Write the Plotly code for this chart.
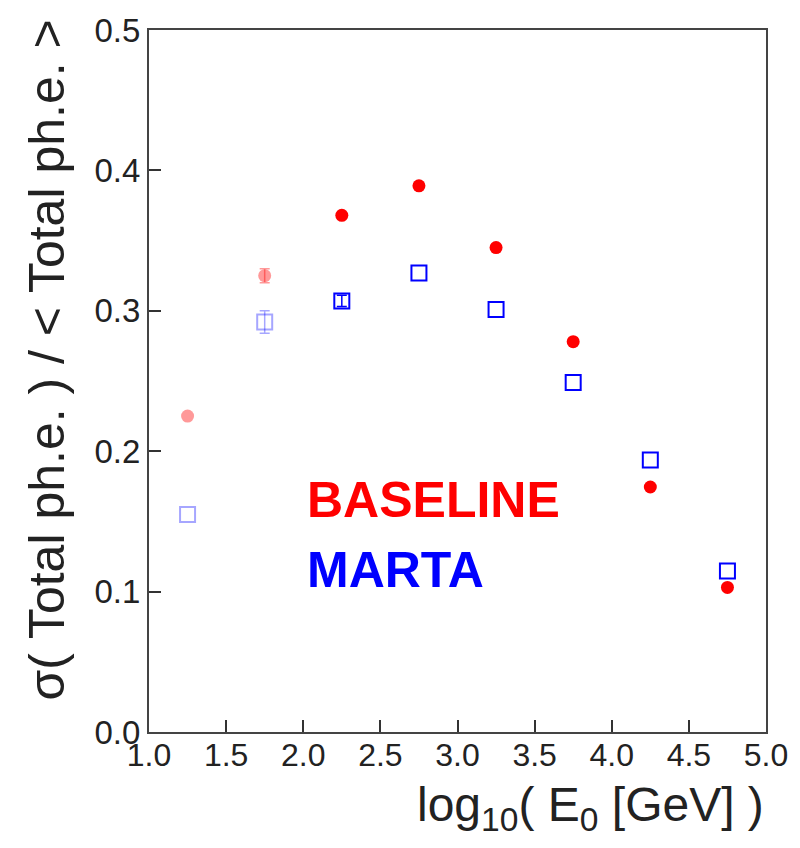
import plotly.graph_objects as go

energy = [1.25, 1.75, 2.25, 2.75, 3.25, 3.75, 4.25, 4.75]
baseline = [0.225, 0.325, 0.368, 0.389, 0.345, 0.278, 0.1745, 0.103]
baseline_err = [0.0, 0.005, 0.0, 0.0, 0.0, 0.0, 0.0, 0.0]
marta = [0.155, 0.292, 0.307, 0.327, 0.301, 0.249, 0.1937, 0.1147]
marta_err = [0.0, 0.008, 0.004, 0.0, 0.0, 0.0, 0.0, 0.0]
faint = [True, True, False, False, False, False, False, False]

red_col = ["rgba(255,0,0,0.4)" if f else "rgb(255,0,0)" for f in faint]
blue_col = ["rgba(0,0,255,0.35)" if f else "rgb(0,0,255)" for f in faint]

FONT = "Liberation Sans"

fig = go.Figure()
for i in range(len(energy)):
    fig.add_trace(go.Scatter(
        x=[energy[i]], y=[baseline[i]], mode="markers",
        error_y=dict(type="data", array=[baseline_err[i]], visible=baseline_err[i] > 0,
                     color=red_col[i], thickness=1.5, width=5),
        marker=dict(symbol="circle", size=13, color=red_col[i], line=dict(width=0)),
        showlegend=False))
    fig.add_trace(go.Scatter(
        x=[energy[i]], y=[marta[i]], mode="markers",
        error_y=dict(type="data", array=[marta_err[i]], visible=marta_err[i] > 0,
                     color=blue_col[i], thickness=1.5, width=5),
        marker=dict(symbol="square-open", size=15, color=blue_col[i], line=dict(width=2, color=blue_col[i])),
        showlegend=False))

fig.add_annotation(x=2.01, y=0.165, xref="x", yref="y", text="<b>BASELINE</b>", showarrow=False,
                   xanchor="left", yanchor="middle", font=dict(family=FONT, size=50, color="#ff0000"))
fig.add_annotation(x=2.01, y=0.1154, xref="x", yref="y", text="<b>MARTA</b>", showarrow=False,
                   xanchor="left", yanchor="middle", font=dict(family=FONT, size=50, color="#0000ff"))

fig.add_annotation(x=1.0, y=-0.063, xref="paper", yref="paper", xanchor="right", yanchor="top",
                   text="log<sub>10</sub>( E<sub>0</sub> [GeV] )", showarrow=False,
                   font=dict(family=FONT, size=48, color="#222"))
fig.add_annotation(x=-0.166, y=0.53, xref="paper", yref="paper", xanchor="center", yanchor="middle",
                   text="σ( Total ph.e. ) / < Total ph.e. >", showarrow=False, textangle=-90,
                   font=dict(family=FONT, size=50, color="#222"))

fig.update_layout(
    width=800, height=848,
    margin=dict(l=149, r=34, t=30, b=116),
    paper_bgcolor="white", plot_bgcolor="white",
    font=dict(family=FONT, color="#222"),
    xaxis=dict(range=[1.0, 5.0], tickvals=[1.0, 1.5, 2.0, 2.5, 3.0, 3.5, 4.0, 4.5, 5.0],
               ticktext=["1.0", "1.5", "2.0", "2.5", "3.0", "3.5", "4.0", "4.5", "5.0"],
               ticks="inside", ticklen=12, tickwidth=1.5, tickcolor="#333",
               showline=True, linecolor="#444", linewidth=2, mirror=True,
               showgrid=False, zeroline=False, ticklabelstandoff=-6,
               tickfont=dict(family=FONT, size=32, color="#222")),
    yaxis=dict(range=[0.0, 0.5], tickvals=[0.0, 0.1, 0.2, 0.3, 0.4, 0.5],
               ticktext=["0.0", "0.1", "0.2", "0.3", "0.4", "0.5"],
               ticks="inside", ticklen=12, tickwidth=1.5, tickcolor="#333",
               showline=True, linecolor="#444", linewidth=2, mirror=True,
               showgrid=False, zeroline=False, tickfont=dict(size=33, color="#222")),
)

fig.write_html("out.html")
